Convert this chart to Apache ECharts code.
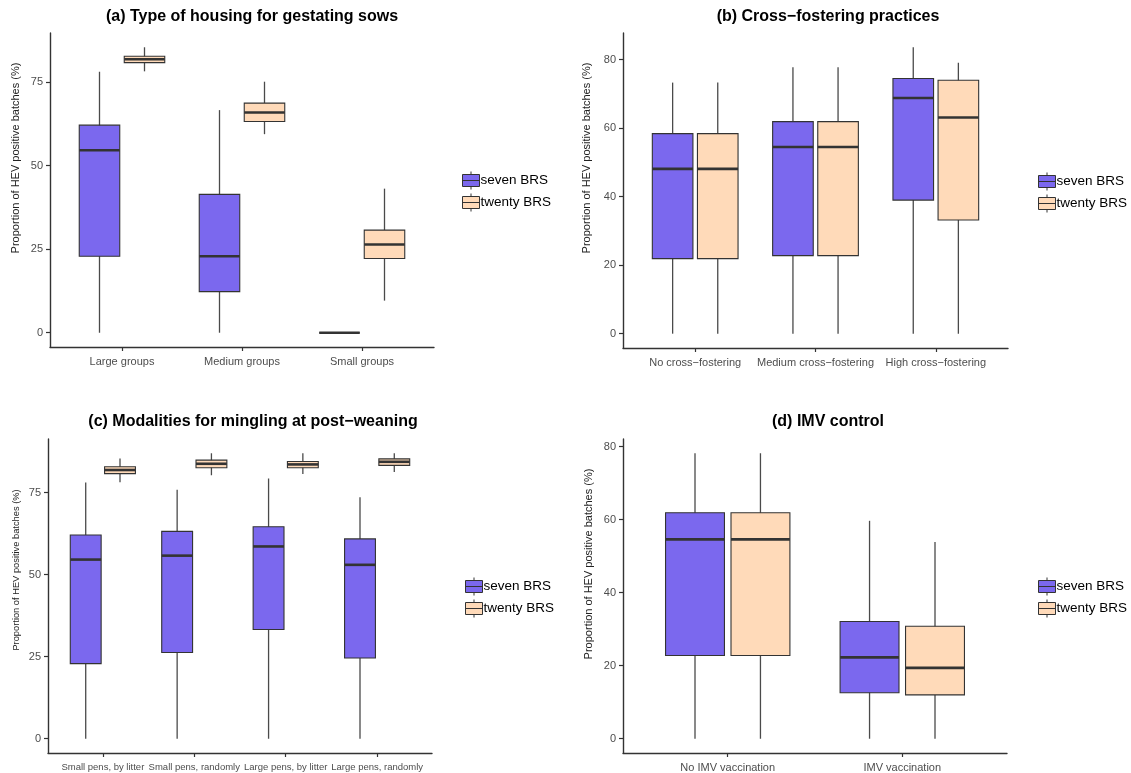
<!DOCTYPE html>
<html>
<head>
<meta charset="utf-8">
<script src="https://cdn.jsdelivr.net/npm/echarts@6/dist/echarts.min.js"></script>
<style>
html,body{margin:0;padding:0;background:#fff;}
#chart{width:1131px;height:773px;}
</style>
</head>
<body>
<div id="chart"></div>
<script>
// ---------- DATA (each box: [lower whisker, Q1, median, Q3, upper whisker]) ----------
const seriesNames = ['seven BRS', 'twenty BRS'];

const housingCats = ['Large groups', 'Medium groups', 'Small groups'];
const housingSeven = [[0, 22.9, 54.6, 62.1, 78.1], [0, 12.3, 22.9, 41.4, 66.6], [0, 0, 0, 0, 0]];
const housingTwenty = [[78.2, 80.8, 81.8, 82.7, 85.4], [59.4, 63.2, 65.9, 68.7, 75.1], [9.6, 22.2, 26.4, 30.7, 43.1]];
const housingTicks = [0, 25, 50, 75];

const fosterCats = ['No cross\u2212fostering', 'Medium cross\u2212fostering', 'High cross\u2212fostering'];
const fosterSeven = [[0, 21.9, 48.1, 58.4, 73.3], [0, 22.8, 54.5, 61.9, 77.8], [0, 39.0, 68.8, 74.5, 83.6]];
const fosterTwenty = [[0, 21.9, 48.1, 58.4, 73.3], [0, 22.8, 54.5, 61.9, 77.8], [0, 33.2, 63.1, 74.0, 79.1]];
const fosterTicks = [0, 20, 40, 60, 80];

const minglingCats = ['Small pens, by litter', 'Small pens, randomly', 'Large pens, by litter', 'Large pens, randomly'];
const minglingSeven = [[0, 22.9, 54.6, 62.1, 78.1], [0, 26.3, 55.8, 63.2, 75.9], [0, 33.3, 58.6, 64.6, 79.3], [0, 24.6, 53.0, 60.9, 73.6]];
const minglingTwenty = [[78.2, 80.8, 81.9, 82.9, 85.4], [80.3, 82.6, 83.8, 84.9, 87.0], [80.7, 82.6, 83.6, 84.5, 87.0], [81.3, 83.3, 84.4, 85.3, 87.0]];
const minglingTicks = [0, 25, 50, 75];

const imvCats = ['No IMV vaccination', 'IMV vaccination'];
const imvSeven = [[0, 22.8, 54.6, 61.9, 78.2], [0, 12.6, 22.3, 32.1, 59.7]];
const imvTwenty = [[0, 22.8, 54.6, 61.9, 78.2], [0, 12.0, 19.4, 30.8, 53.9]];
const imvTicks = [0, 20, 40, 60, 80];

const titles = ['(a) Type of housing for gestating sows', '(b) Cross\u2212fostering practices',
                '(c) Modalities for mingling at post\u2212weaning', '(d) IMV control'];
const yName = 'Proportion of HEV positive batches (%)';

// ---------- STYLE / LAYOUT ----------
const FONT = '"Liberation Sans", Arial, Helvetica, sans-serif';
const SEVEN_FILL = '#7B68EE';
const TWENTY_FILL = '#FFDAB9';
const DODGE = 0.1875;
const BOX_W = 0.3375;

const panels = [
  {cats: housingCats, seven: housingSeven, twenty: housingTwenty, ticks: housingTicks,
   grid: {left: 50, right: 697, top: 33, bottom: 426}, titleX: 252, titleY: 9,
   legend: {left: 462, top: 171}, yLab: {x: 16, y: 158, size: 11}, xFont: 11},
  {cats: fosterCats, seven: fosterSeven, twenty: fosterTwenty, ticks: fosterTicks,
   grid: {left: 623, right: 123, top: 33, bottom: 425}, titleX: 828, titleY: 9,
   legend: {left: 1038, top: 172}, yLab: {x: 587, y: 158, size: 11}, xFont: 11},
  {cats: minglingCats, seven: minglingSeven, twenty: minglingTwenty, ticks: minglingTicks,
   grid: {left: 48, right: 699, top: 439, bottom: 20}, titleX: 253, titleY: 414,
   legend: {left: 465, top: 577}, yLab: {x: 16, y: 570, size: 9.3}, xFont: 9.5},
  {cats: imvCats, seven: imvSeven, twenty: imvTwenty, ticks: imvTicks,
   grid: {left: 623, right: 124, top: 439, bottom: 20}, titleX: 828, titleY: 414,
   legend: {left: 1038, top: 577}, yLab: {x: 589, y: 564, size: 11}, xFont: 11}
];

function makeRenderer(dodge) {
  return function (params, api) {
    const x = api.value(0) + dodge;
    const lo = api.coord([x, api.value(1)]);
    const q1 = api.coord([x, api.value(2)]);
    const md = api.coord([x, api.value(3)]);
    const q3 = api.coord([x, api.value(4)]);
    const hi = api.coord([x, api.value(5)]);
    const w = api.size([BOX_W, 0])[0];
    const fill = api.visual('color');
    return {
      type: 'group',
      children: [
        {type: 'line', shape: {x1: lo[0], y1: lo[1], x2: hi[0], y2: hi[1]},
         style: {stroke: '#4a4a4a', lineWidth: 1.3}},
        {type: 'rect', shape: {x: q3[0] - w / 2, y: q3[1], width: w, height: q1[1] - q3[1]},
         style: {fill: fill, stroke: '#333', lineWidth: 1.1}},
        {type: 'line', shape: {x1: md[0] - w / 2, y1: md[1], x2: md[0] + w / 2, y2: md[1]},
         style: {stroke: '#333', lineWidth: 2.6}}
      ]
    };
  };
}

const legendIcon = 'path://M0,3H17V15H0Z M0,9H17 M8.5,0V3 M8.5,15V18';

const option = {
  backgroundColor: '#fff',
  animation: false,
  textStyle: {fontFamily: FONT},
  title: [], grid: [], xAxis: [], yAxis: [], series: [], legend: [], graphic: []
};

panels.forEach(function (p, i) {
  const all = p.seven.concat(p.twenty);
  const dataMax = Math.max.apply(null, all.map(function (b) { return b[4]; }));
  const pad = dataMax * 0.05;
  const catIdx = p.cats.map(function (c, k) { return k + 1; });

  option.title.push({
    text: titles[i], left: p.titleX, top: p.titleY, textAlign: 'center', padding: 0,
    textStyle: {fontFamily: FONT, fontSize: 16, fontWeight: 'bold', color: '#000'}
  });
  option.grid.push(Object.assign({containLabel: false}, p.grid));
  option.xAxis.push({
    type: 'value', gridIndex: i, min: 0.4, max: p.cats.length + 0.6,
    splitLine: {show: false},
    axisLine: {show: true, onZero: false, lineStyle: {color: '#333', width: 1.4}},
    axisTick: {show: true, length: 4, lineStyle: {color: '#333', width: 1.2}, customValues: catIdx},
    axisLabel: {show: true, customValues: catIdx, margin: 9, color: '#4d4d4d', fontSize: p.xFont,
      fontFamily: FONT,
      formatter: function (v) { return p.cats[Math.round(v) - 1] || ''; }}
  });
  option.yAxis.push({
    type: 'value', gridIndex: i, min: -pad, max: dataMax + pad,
    splitLine: {show: false},
    axisLine: {show: true, onZero: false, lineStyle: {color: '#333', width: 1.4}},
    axisTick: {show: true, length: 4, lineStyle: {color: '#333', width: 1.2}, customValues: p.ticks},
    axisLabel: {show: true, customValues: p.ticks, margin: 7, color: '#4d4d4d', fontSize: 11, fontFamily: FONT}
  });
  [[p.seven, SEVEN_FILL, -DODGE], [p.twenty, TWENTY_FILL, DODGE]].forEach(function (s, j) {
    option.series.push({
      type: 'custom', name: seriesNames[j], xAxisIndex: i, yAxisIndex: i,
      renderItem: makeRenderer(s[2]),
      itemStyle: {color: s[1], borderColor: '#333', borderWidth: 1},
      encode: {x: 0, y: [1, 2, 3, 4, 5]},
      data: s[0].map(function (b, k) { return [k + 1].concat(b); }),
      silent: true
    });
  });
  option.legend.push({
    left: p.legend.left, top: p.legend.top, orient: 'vertical', padding: 0,
    itemWidth: 17, itemHeight: 18, itemGap: 3,
    textStyle: {fontFamily: FONT, fontSize: 13.5, color: '#000', padding: [0, 0, 0, -4]},
    data: seriesNames.map(function (n, j) {
      return {name: n, icon: legendIcon,
        itemStyle: {color: j === 0 ? SEVEN_FILL : TWENTY_FILL, borderColor: '#333', borderWidth: 1}};
    })
  });
  option.graphic.push({
    type: 'text', x: p.yLab.x, y: p.yLab.y, rotation: Math.PI / 2,
    style: {text: yName, fill: '#222', fontSize: p.yLab.size, fontFamily: FONT,
      align: 'center', verticalAlign: 'middle'}
  });
});

const chart = echarts.init(document.getElementById('chart'), null, {renderer: 'canvas'});
chart.setOption(option);
</script>
</body>
</html>
